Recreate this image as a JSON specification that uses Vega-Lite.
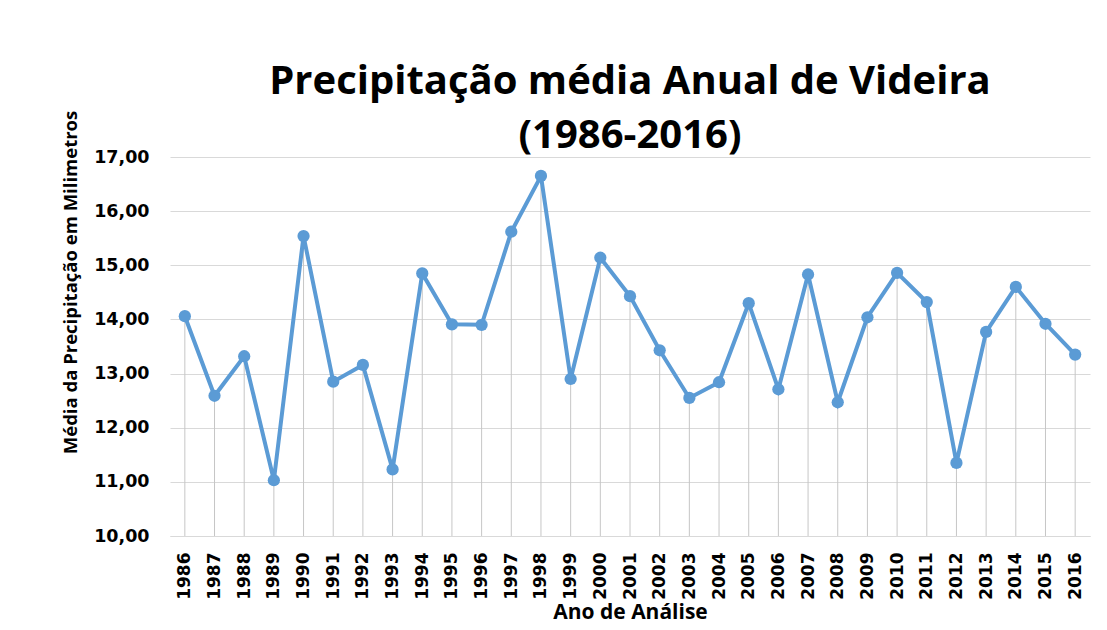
{
  "$schema": "https://vega.github.io/schema/vega-lite/v6.json",
  "autosize": "none",
  "width": 920,
  "height": 379,
  "padding": {"left": 170, "top": 157, "right": 17, "bottom": 94},
  "background": "white",
  "title": {
    "text": ["Precipitação média Anual de Videira", "(1986-2016)"],
    "anchor": "middle",
    "frame": "group",
    "font": "Open Sans",
    "fontWeight": "bold",
    "fontSize": 40,
    "lineHeight": 54,
    "color": "#000000",
    "offset": -46
  },
  "data": {
    "values": [
      {"ano": "1986", "valor": 14.06},
      {"ano": "1987", "valor": 12.59},
      {"ano": "1988", "valor": 13.32},
      {"ano": "1989", "valor": 11.03},
      {"ano": "1990", "valor": 15.54},
      {"ano": "1991", "valor": 12.85},
      {"ano": "1992", "valor": 13.16},
      {"ano": "1993", "valor": 11.23},
      {"ano": "1994", "valor": 14.85},
      {"ano": "1995", "valor": 13.91},
      {"ano": "1996", "valor": 13.90},
      {"ano": "1997", "valor": 15.62},
      {"ano": "1998", "valor": 16.65},
      {"ano": "1999", "valor": 12.90},
      {"ano": "2000", "valor": 15.14},
      {"ano": "2001", "valor": 14.43},
      {"ano": "2002", "valor": 13.43},
      {"ano": "2003", "valor": 12.55},
      {"ano": "2004", "valor": 12.84},
      {"ano": "2005", "valor": 14.30},
      {"ano": "2006", "valor": 12.71},
      {"ano": "2007", "valor": 14.83},
      {"ano": "2008", "valor": 12.47},
      {"ano": "2009", "valor": 14.04},
      {"ano": "2010", "valor": 14.86},
      {"ano": "2011", "valor": 14.32},
      {"ano": "2012", "valor": 11.35},
      {"ano": "2013", "valor": 13.77},
      {"ano": "2014", "valor": 14.60},
      {"ano": "2015", "valor": 13.92},
      {"ano": "2016", "valor": 13.35}
    ]
  },
  "encoding": {
    "x": {
      "field": "ano",
      "type": "ordinal",
      "scale": {"type": "point", "padding": 0.5},
      "axis": {
        "title": "Ano de Análise",
        "titleFont": "Open Sans",
        "titleFontWeight": "bold",
        "titleFontSize": 21,
        "titleColor": "#000000",
        "titlePadding": 2,
        "labelAngle": 270,
        "labelAlign": "right",
        "labelBaseline": "middle",
        "labelFont": "DejaVu Sans",
        "labelFontWeight": "bold",
        "labelFontSize": 17,
        "labelColor": "#000000",
        "labelPadding": 16,
        "ticks": false,
        "grid": false,
        "domainColor": "#d9d9d9",
        "domainWidth": 1
      }
    },
    "y": {
      "field": "valor",
      "type": "quantitative",
      "scale": {"domain": [10, 17], "nice": false, "zero": false},
      "axis": {
        "title": "Média da Precipitação em Milimetros",
        "titleFont": "Open Sans",
        "titleFontWeight": "bold",
        "titleFontSize": 18.5,
        "titleColor": "#000000",
        "titleX": -100,
        "titleY": 125,
        "titleAlign": "center",
        "titleBaseline": "middle",
        "titleAngle": 270,
        "values": [10, 11, 12, 13, 14, 15, 16, 17],
        "labelExpr": "replace(format(datum.value, '.2f'), '.', ',')",
        "labelFont": "DejaVu Sans",
        "labelFontWeight": "bold",
        "labelFontSize": 17.5,
        "labelColor": "#000000",
        "labelPadding": 21,
        "ticks": false,
        "domain": false,
        "grid": true,
        "gridColor": "#d9d9d9",
        "gridWidth": 1
      }
    }
  },
  "layer": [
    {
      "mark": {"type": "rule", "color": "#c6c6c6", "strokeWidth": 1},
      "encoding": {"y2": {"datum": 10}}
    },
    {
      "mark": {"type": "line", "color": "#5B9BD5", "strokeWidth": 4}
    },
    {
      "mark": {"type": "point", "filled": true, "size": 150, "color": "#5B9BD5", "opacity": 1}
    }
  ],
  "config": {
    "view": {"stroke": null}
  }
}
